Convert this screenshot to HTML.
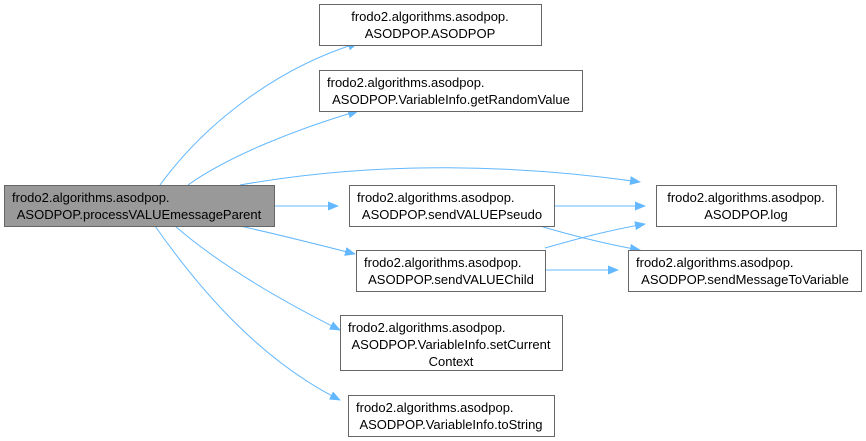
<!DOCTYPE html>
<html><head><style>body{margin:0;background:#fff}svg{display:block}text{font-family:"Liberation Sans",sans-serif;font-size:13px;fill:#000}</style></head><body>
<svg width="866" height="441" viewBox="0 0 866 441">
<defs><marker id="a" markerWidth="11" markerHeight="9" refX="10" refY="4.5" orient="auto" markerUnits="userSpaceOnUse"><path d="M0,0 L11,4.5 L0,9z" fill="#63b8ff"/></marker></defs>
<g fill="none" stroke="#63b8ff" stroke-width="1" marker-end="url(#a)">
<path d="M160,185 C200,130 270,70 358,43"/>
<path d="M188,185 C230,155 300,128 358,111"/>
<path d="M240,185 C380,160 520,165 640,182"/>
<path d="M275,206 L338,206"/>
<path d="M240,226 C280,235 320,245 355,254"/>
<path d="M175,226 C220,265 280,300 340,330"/>
<path d="M155,226 C200,290 260,360 340,400"/>
<path d="M554,206 L645,206"/>
<path d="M545,248 C580,238 610,230 645,224"/>
<path d="M545,270 L618,270"/>
<path d="M540,226 C570,235 610,245 640,250"/>
</g>
<g stroke="#666" stroke-width="1">
<rect x="4.5" y="185.5" width="270" height="41" fill="#999"/>
<rect x="319.5" y="4.5" width="222" height="41" fill="#fff"/>
<rect x="319.5" y="70.5" width="263" height="41" fill="#fff"/>
<rect x="349.5" y="185.5" width="205" height="41" fill="#fff"/>
<rect x="356.5" y="250.5" width="189" height="41" fill="#fff"/>
<rect x="340.5" y="315.5" width="222" height="55" fill="#fff"/>
<rect x="348.5" y="395.5" width="206" height="41" fill="#fff"/>
<rect x="656.5" y="185.5" width="180" height="41" fill="#fff"/>
<rect x="628.5" y="250.5" width="233" height="41" fill="#fff"/>
</g>
<text x="12" y="202">frodo2.algorithms.asodpop.</text><text x="139" y="219" text-anchor="middle">ASODPOP.processVALUEmessageParent</text>
<text x="430" y="21" text-anchor="middle">frodo2.algorithms.asodpop.</text><text x="430" y="38" text-anchor="middle">ASODPOP.ASODPOP</text>
<text x="327" y="87">frodo2.algorithms.asodpop.</text><text x="451" y="104" text-anchor="middle">ASODPOP.VariableInfo.getRandomValue</text>
<text x="357" y="202">frodo2.algorithms.asodpop.</text><text x="452" y="219" text-anchor="middle">ASODPOP.sendVALUEPseudo</text>
<text x="364" y="267">frodo2.algorithms.asodpop.</text><text x="451" y="284" text-anchor="middle">ASODPOP.sendVALUEChild</text>
<text x="348" y="332">frodo2.algorithms.asodpop.</text><text x="451" y="349" text-anchor="middle">ASODPOP.VariableInfo.setCurrent</text><text x="451" y="366" text-anchor="middle">Context</text>
<text x="356" y="412">frodo2.algorithms.asodpop.</text><text x="451" y="429" text-anchor="middle">ASODPOP.VariableInfo.toString</text>
<text x="746" y="202" text-anchor="middle">frodo2.algorithms.asodpop.</text><text x="746" y="219" text-anchor="middle">ASODPOP.log</text>
<text x="636" y="267">frodo2.algorithms.asodpop.</text><text x="745" y="284" text-anchor="middle">ASODPOP.sendMessageToVariable</text>
</svg>
</body></html>
